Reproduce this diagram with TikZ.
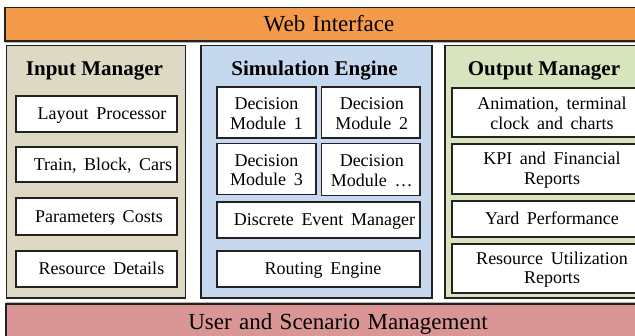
\documentclass[tikz,border=0pt]{standalone}
\usepackage{fontspec}
\newfontfamily\diagfont{Liberation Serif}
\newcommand\itemfont{\diagfont\fontsize{18}{19.5}\selectfont\spaceskip 0.42em\relax}
\newcommand\barfont{\diagfont\fontsize{23}{26}\selectfont\spaceskip 0.32em\relax}
\newcommand\titlefont{\diagfont\fontsize{21}{24}\selectfont\bfseries}
\definecolor{webfill}{HTML}{F49A4B}
\definecolor{infill}{HTML}{DDD9C3}
\definecolor{simfill}{HTML}{C6D8EE}
\definecolor{outfill}{HTML}{D7E4BD}
\definecolor{userfill}{HTML}{D99694}
\definecolor{edge}{HTML}{222222}
\begin{document}
\begin{tikzpicture}[x=1pt,y=-1pt,
  panel/.style={draw=edge, line width=1.6pt},
  item/.style={draw=edge, fill=white, line width=1.3pt, rectangle, inner sep=0pt},
  txt/.style={font=\itemfont, align=center, inner sep=0pt},
  ttl/.style={font=\titlefont, inner sep=0pt, anchor=base},
  bartxt/.style={font=\barfont, inner sep=0pt, anchor=base},
  rule/.style={draw=black!30, line width=0.8pt}]
\useasboundingbox (0,0) rectangle (635,336);
\clip (0,0) rectangle (635,336);

% top and bottom bars
\draw[panel, fill=webfill] (5,7.5) rectangle (650,41);
\draw[rule] (5,42.8) -- (650,42.8);
\node[bartxt] (web) at (329,32) {Web Interface};

\draw[rule] (6,302.2) -- (650,302.2);
\draw[panel, fill=userfill] (6,303.8) rectangle (650,345);
\node[bartxt] (user) at (338,329.5) {User and Scenario Management};

% three panels
\draw[panel, fill=infill] (6.5,45.5) rectangle (185.5,298);
\draw[panel, fill=simfill] (201,45.5) rectangle (432,298);
\draw[panel, fill=outfill] (445,45.5) rectangle (660,298);

\node[ttl] (tin) at (94.5,76) {Input Manager};
\node[ttl] (tsim) at (314.5,76) {Simulation Engine};
\node[ttl] (tout) at (544,76) {Output Manager};

% input manager
\node[item, minimum width=161pt, minimum height=36pt] (lp) at (96.5,114) {};
\node[item, minimum width=161pt, minimum height=35pt] (tb) at (96.5,164.5) {};
\node[item, minimum width=161pt, minimum height=37pt] (pc) at (96.5,216.5) {};
\node[item, minimum width=161pt, minimum height=36pt] (rd) at (96.5,269) {};
\node[txt, anchor=base] at ([xshift=5.5pt, yshift=-6pt]lp.center) {Layout Processor};
\node[txt, anchor=base] at ([xshift=6.5pt, yshift=-6pt]tb.center) {Train, Block, Cars};
\node[txt, anchor=base] at ([xshift=2.5pt, yshift=-6pt]pc.center) {Parameters\llap{,\kern0.04em} Costs};
\node[txt, anchor=base] at ([xshift=5pt, yshift=-6pt]rd.center) {Resource Details};

% simulation engine
\node[item, minimum width=99pt, minimum height=51pt] (dm1) at (266.5,112.5) {};
\node[item, minimum width=98.5pt, minimum height=51pt] (dm2) at (370.75,112.5) {};
\node[item, minimum width=99pt, minimum height=51pt] (dm3) at (266.5,169) {};
\node[item, minimum width=98.5pt, minimum height=52pt] (dm4) at (370.75,169.5) {};
\node[item, minimum width=203pt, minimum height=36pt] (dem) at (318.5,220) {};
\node[item, minimum width=203pt, minimum height=36pt] (re) at (318.5,269) {};
\node[txt] at ([yshift=-1pt]dm1.center) {Decision\\Module 1};
\node[txt] at ([xshift=1pt, yshift=-1pt]dm2.center) {Decision\\Module 2};
\node[txt] at ([yshift=-1pt]dm3.center) {Decision\\Module 3};
\node[txt] at ([xshift=1pt, yshift=-1pt]dm4.center) {Decision\\Module …};
\node[txt, anchor=base] at ([xshift=6pt, yshift=-6pt]dem.center) {Discrete Event Manager};
\node[txt, anchor=base] at ([xshift=4.5pt, yshift=-6pt]re.center) {Routing Engine};

% output manager
\node[item, minimum width=200pt, minimum height=49pt] (an) at (552,112.5) {};
\node[item, minimum width=200pt, minimum height=50pt] (kpi) at (552,169) {};
\node[item, minimum width=200pt, minimum height=36pt] (yp) at (552,219) {};
\node[item, minimum width=200pt, minimum height=49pt] (ru) at (552,268.5) {};
\node[txt] at ([yshift=-1pt]an.center) {Animation, terminal\\clock and charts};
\node[txt] at ([yshift=-1pt]kpi.center) {KPI and Financial\\Reports};
\node[txt, anchor=base] at ([yshift=-6pt]yp.center) {Yard Performance};
\node[txt] at ([yshift=-1pt]ru.center) {Resource Utilization\\Reports};
\end{tikzpicture}
\end{document}
